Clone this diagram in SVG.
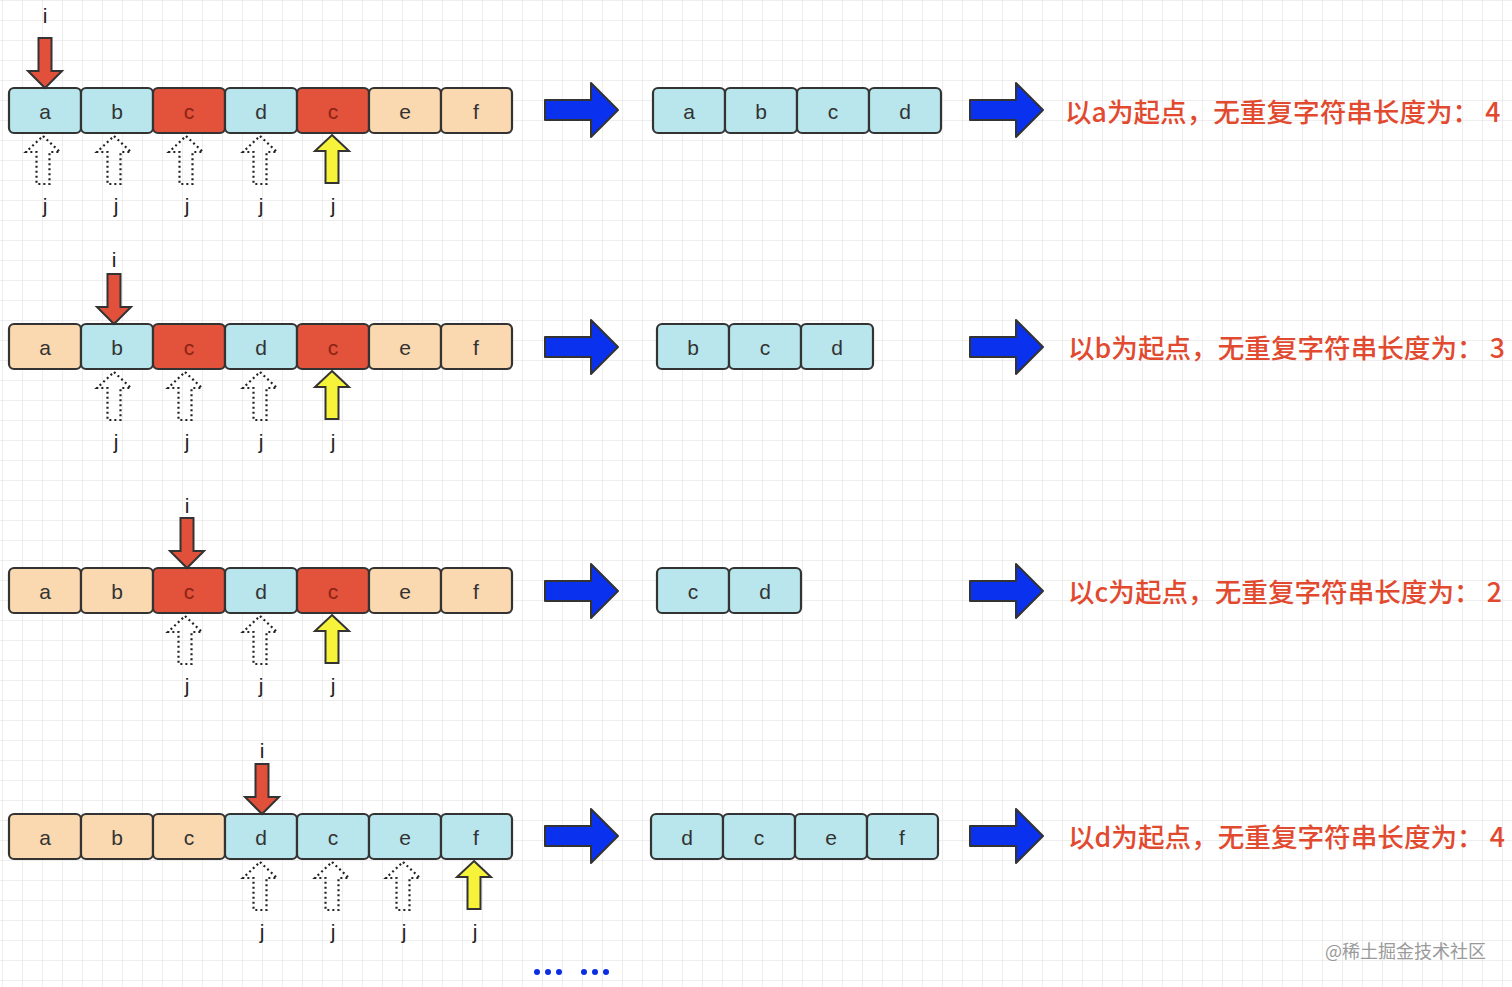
<svg xmlns="http://www.w3.org/2000/svg" xmlns:xlink="http://www.w3.org/1999/xlink" width="1512" height="987" viewBox="0 0 1512 987">
<defs>
<pattern id="grid" x="2" y="0" width="20" height="20" patternUnits="userSpaceOnUse">
<path d="M0,0 H20 M0,0 V20" fill="none" stroke="#e9e9e9" stroke-width="1.5"/>
</pattern>
<path id="upArrow" d="M0,0 L17,16 L6.5,16 L6.5,48 L-6.5,48 L-6.5,16 L-17,16 Z"/>
<path id="downArrow" d="M0,0 L17,-17 L6.5,-17 L6.5,-50 L-6.5,-50 L-6.5,-17 L-17,-17 Z"/>
<path id="bigArrow" d="M0,0 L-27,-27 L-27,-10 L-73,-10 L-73,10 L-27,10 L-27,27 Z"/>
</defs>
<style>
.cell{stroke:#333;stroke-width:2.2}
.blue{fill:#b9e6ec}
.red{fill:#e3523a}
.beige{fill:#fad9b0}
.lbl{font-family:"Liberation Sans",Arial,sans-serif;font-size:21px;fill:#333;text-anchor:middle;dominant-baseline:central}
.lblr{font-family:"Liberation Sans",Arial,sans-serif;font-size:21px;fill:#8a2315;text-anchor:middle;dominant-baseline:central}
.ij{font-family:"Liberation Sans",Arial,sans-serif;font-size:21px;fill:#222;text-anchor:middle;dominant-baseline:central}
.iptr{fill:#e0503a;stroke:#333;stroke-width:2}
.jdot{fill:none;stroke:#222;stroke-width:2.2;stroke-dasharray:2,3}
.jcur{fill:#f7f33a;stroke:#333;stroke-width:2}
.big{fill:#0a32ee;stroke:#333;stroke-width:2;stroke-linejoin:round}
.res{font-family:"Noto Sans CJK SC","Noto Sans",sans-serif;font-size:26.6px;font-weight:500;fill:#e24a30;dominant-baseline:central}
.wm{font-family:"Noto Sans CJK SC","Noto Sans",sans-serif;font-size:18px;fill:#9a9a9a;dominant-baseline:central}
</style>
<rect width="1512" height="987" fill="#ffffff"/>
<rect width="1512" height="987" fill="url(#grid)"/>

<!-- Row 1 -->
<g id="row1-array">
<rect class="cell blue" x="9" y="88" width="72" height="45" rx="5"/><text class="lbl" x="45" y="111">a</text>
<rect class="cell blue" x="81" y="88" width="72" height="45" rx="5"/><text class="lbl" x="117" y="111">b</text>
<rect class="cell red" x="153" y="88" width="72" height="45" rx="5"/><text class="lblr" x="189" y="111">c</text>
<rect class="cell blue" x="225" y="88" width="72" height="45" rx="5"/><text class="lbl" x="261" y="111">d</text>
<rect class="cell red" x="297" y="88" width="72" height="45" rx="5"/><text class="lblr" x="333" y="111">c</text>
<rect class="cell beige" x="369" y="88" width="72" height="45" rx="5"/><text class="lbl" x="405" y="111">e</text>
<rect class="cell beige" x="441" y="88" width="71" height="45" rx="5"/><text class="lbl" x="476" y="111">f</text>
</g>
<g id="row1-pointers">
<text class="ij" x="45" y="15">i</text>
<use href="#downArrow" class="iptr" x="45" y="88"/>
<use href="#upArrow" class="jdot" x="43" y="136"/>
<use href="#upArrow" class="jdot" x="114" y="136"/>
<use href="#upArrow" class="jdot" x="186" y="136"/>
<use href="#upArrow" class="jdot" x="260" y="136"/>
<use href="#upArrow" class="jcur" x="332" y="135"/>
<text class="ij" x="45" y="205">j</text>
<text class="ij" x="116" y="205">j</text>
<text class="ij" x="187" y="205">j</text>
<text class="ij" x="261" y="205">j</text>
<text class="ij" x="333" y="205">j</text>
</g>
<g id="row1-result">
<rect class="cell blue" x="653" y="88" width="72" height="45" rx="5"/><text class="lbl" x="689" y="111">a</text>
<rect class="cell blue" x="725" y="88" width="72" height="45" rx="5"/><text class="lbl" x="761" y="111">b</text>
<rect class="cell blue" x="797" y="88" width="72" height="45" rx="5"/><text class="lbl" x="833" y="111">c</text>
<rect class="cell blue" x="869" y="88" width="72" height="45" rx="5"/><text class="lbl" x="905" y="111">d</text>
</g>
<g id="row1-text"><text class="res" x="1065" y="110">以a为起点，无重复字符串长度为：<tspan dx="6">4</tspan></text></g>

<!-- Row 2 -->
<g id="row2-array">
<rect class="cell beige" x="9" y="324" width="72" height="45" rx="5"/><text class="lbl" x="45" y="347">a</text>
<rect class="cell blue" x="81" y="324" width="72" height="45" rx="5"/><text class="lbl" x="117" y="347">b</text>
<rect class="cell red" x="153" y="324" width="72" height="45" rx="5"/><text class="lblr" x="189" y="347">c</text>
<rect class="cell blue" x="225" y="324" width="72" height="45" rx="5"/><text class="lbl" x="261" y="347">d</text>
<rect class="cell red" x="297" y="324" width="72" height="45" rx="5"/><text class="lblr" x="333" y="347">c</text>
<rect class="cell beige" x="369" y="324" width="72" height="45" rx="5"/><text class="lbl" x="405" y="347">e</text>
<rect class="cell beige" x="441" y="324" width="71" height="45" rx="5"/><text class="lbl" x="476" y="347">f</text>
</g>
<g id="row2-pointers">
<text class="ij" x="114" y="259">i</text>
<use href="#downArrow" class="iptr" x="114" y="324"/>
<use href="#upArrow" class="jdot" x="114" y="372"/>
<use href="#upArrow" class="jdot" x="185" y="372"/>
<use href="#upArrow" class="jdot" x="260" y="372"/>
<use href="#upArrow" class="jcur" x="332" y="371"/>
<text class="ij" x="116" y="441">j</text>
<text class="ij" x="187" y="441">j</text>
<text class="ij" x="261" y="441">j</text>
<text class="ij" x="333" y="441">j</text>
</g>
<g id="row2-result">
<rect class="cell blue" x="657" y="324" width="72" height="45" rx="5"/><text class="lbl" x="693" y="347">b</text>
<rect class="cell blue" x="729" y="324" width="72" height="45" rx="5"/><text class="lbl" x="765" y="347">c</text>
<rect class="cell blue" x="801" y="324" width="72" height="45" rx="5"/><text class="lbl" x="837" y="347">d</text>
</g>
<g id="row2-text"><text class="res" x="1068" y="346">以b为起点，无重复字符串长度为：<tspan dx="6">3</tspan></text></g>

<!-- Row 3 -->
<g id="row3-array">
<rect class="cell beige" x="9" y="568" width="72" height="45" rx="5"/><text class="lbl" x="45" y="591">a</text>
<rect class="cell beige" x="81" y="568" width="72" height="45" rx="5"/><text class="lbl" x="117" y="591">b</text>
<rect class="cell red" x="153" y="568" width="72" height="45" rx="5"/><text class="lblr" x="189" y="591">c</text>
<rect class="cell blue" x="225" y="568" width="72" height="45" rx="5"/><text class="lbl" x="261" y="591">d</text>
<rect class="cell red" x="297" y="568" width="72" height="45" rx="5"/><text class="lblr" x="333" y="591">c</text>
<rect class="cell beige" x="369" y="568" width="72" height="45" rx="5"/><text class="lbl" x="405" y="591">e</text>
<rect class="cell beige" x="441" y="568" width="71" height="45" rx="5"/><text class="lbl" x="476" y="591">f</text>
</g>
<g id="row3-pointers">
<text class="ij" x="187" y="505">i</text>
<use href="#downArrow" class="iptr" x="187" y="568"/>
<use href="#upArrow" class="jdot" x="185" y="616"/>
<use href="#upArrow" class="jdot" x="260" y="616"/>
<use href="#upArrow" class="jcur" x="332" y="615"/>
<text class="ij" x="187" y="685">j</text>
<text class="ij" x="261" y="685">j</text>
<text class="ij" x="333" y="685">j</text>
</g>
<g id="row3-result">
<rect class="cell blue" x="657" y="568" width="72" height="45" rx="5"/><text class="lbl" x="693" y="591">c</text>
<rect class="cell blue" x="729" y="568" width="72" height="45" rx="5"/><text class="lbl" x="765" y="591">d</text>
</g>
<g id="row3-text"><text class="res" x="1068" y="590">以c为起点，无重复字符串长度为：<tspan dx="6">2</tspan></text></g>

<!-- Row 4 -->
<g id="row4-array">
<rect class="cell beige" x="9" y="814" width="72" height="45" rx="5"/><text class="lbl" x="45" y="837">a</text>
<rect class="cell beige" x="81" y="814" width="72" height="45" rx="5"/><text class="lbl" x="117" y="837">b</text>
<rect class="cell beige" x="153" y="814" width="72" height="45" rx="5"/><text class="lbl" x="189" y="837">c</text>
<rect class="cell blue" x="225" y="814" width="72" height="45" rx="5"/><text class="lbl" x="261" y="837">d</text>
<rect class="cell blue" x="297" y="814" width="72" height="45" rx="5"/><text class="lbl" x="333" y="837">c</text>
<rect class="cell blue" x="369" y="814" width="72" height="45" rx="5"/><text class="lbl" x="405" y="837">e</text>
<rect class="cell blue" x="441" y="814" width="71" height="45" rx="5"/><text class="lbl" x="476" y="837">f</text>
</g>
<g id="row4-pointers">
<text class="ij" x="262" y="750">i</text>
<use href="#downArrow" class="iptr" x="262" y="814"/>
<use href="#upArrow" class="jdot" x="260" y="862"/>
<use href="#upArrow" class="jdot" x="332" y="862"/>
<use href="#upArrow" class="jdot" x="403" y="862"/>
<use href="#upArrow" class="jcur" x="474" y="861"/>
<text class="ij" x="262" y="931">j</text>
<text class="ij" x="333" y="931">j</text>
<text class="ij" x="404" y="931">j</text>
<text class="ij" x="475" y="931">j</text>
</g>
<g id="row4-result">
<rect class="cell blue" x="651" y="814" width="72" height="45" rx="5"/><text class="lbl" x="687" y="837">d</text>
<rect class="cell blue" x="723" y="814" width="72" height="45" rx="5"/><text class="lbl" x="759" y="837">c</text>
<rect class="cell blue" x="795" y="814" width="72" height="45" rx="5"/><text class="lbl" x="831" y="837">e</text>
<rect class="cell blue" x="867" y="814" width="71" height="45" rx="5"/><text class="lbl" x="902" y="837">f</text>
</g>
<g id="row4-text"><text class="res" x="1068" y="835">以d为起点，无重复字符串长度为：<tspan dx="6">4</tspan></text></g>

<g id="connectors">
<use href="#bigArrow" class="big" x="618" y="110"/>
<use href="#bigArrow" class="big" x="1043" y="110"/>
<use href="#bigArrow" class="big" x="618" y="347"/>
<use href="#bigArrow" class="big" x="1043" y="347"/>
<use href="#bigArrow" class="big" x="618" y="591"/>
<use href="#bigArrow" class="big" x="1043" y="591"/>
<use href="#bigArrow" class="big" x="618" y="836"/>
<use href="#bigArrow" class="big" x="1043" y="836"/>
</g>

<g id="ellipsis" fill="#0b2fe0">
<circle cx="537" cy="972" r="3"/><circle cx="548" cy="972" r="3"/><circle cx="559" cy="972" r="3"/>
<circle cx="584" cy="972" r="3"/><circle cx="595" cy="972" r="3"/><circle cx="606" cy="972" r="3"/>
</g>
<g id="watermark"><text class="wm" x="1325" y="950">@稀土掘金技术社区</text></g>
</svg>
